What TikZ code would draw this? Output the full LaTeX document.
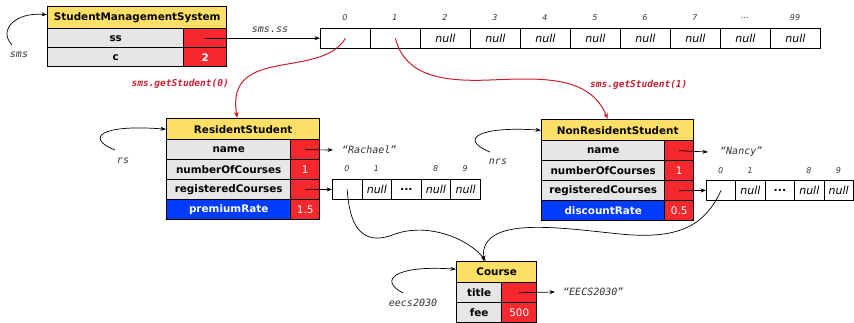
\documentclass[tikz,border=0pt]{standalone}
\usepackage{fontspec}
\setmainfont{DejaVu Sans}
\newfontfamily\monof{DejaVu Sans Mono}
\usetikzlibrary{arrows.meta}
\definecolor{objyellow}{RGB}{255,224,102}
\definecolor{fieldgrey}{RGB}{230,230,230}
\definecolor{valred}{RGB}{245,40,45}
\definecolor{fieldblue}{RGB}{0,60,255}
\definecolor{refred}{RGB}{200,30,45}
\newcommand{\celldots}{{\upshape\bfseries...}}
\tikzset{
  box/.style={draw, line width=1.4pt, inner sep=0pt, anchor=north west},
  titlebox/.style={box, fill=objyellow, font=\bfseries\fontsize{10.4}{12}\selectfont},
  fieldg/.style={box, fill=fieldgrey, font=\bfseries\fontsize{10.4}{12}\selectfont},
  fieldb/.style={box, fill=fieldblue, text=white, font=\bfseries\fontsize{10.4}{12}\selectfont},
  valr/.style={box, fill=valred, text=white, font=\fontsize{10.4}{12}\selectfont},
  arrcell/.style={draw, line width=0.8pt, inner sep=0pt, anchor=north west, minimum height=20pt, font=\itshape\fontsize{11}{12}\selectfont},
  idx/.style={inner sep=0pt, text=black!80, font=\itshape\fontsize{8}{9}\selectfont},
  lbl/.style={inner sep=0pt, text=black!80, font=\monof\itshape\fontsize{10}{12}\selectfont},
  reflbl/.style={inner sep=0pt, text=refred, font=\monof\bfseries\itshape\fontsize{9.5}{11}\selectfont},
  ptr/.style={-{Stealth[length=5.5pt,width=4pt]}, line width=0.7pt},
  refarrow/.style={-{Stealth[length=6pt,width=4.5pt]}, line width=1pt, draw=refred}
}
\begin{document}
\begin{tikzpicture}[x=1pt,y=-1pt]
\useasboundingbox (0,0) rectangle (854,323);

% ---------- StudentManagementSystem ----------
\node[titlebox, minimum width=179pt, minimum height=22pt] (smst) at (47,6) {StudentManagementSystem};
\node[fieldg, minimum width=136pt, minimum height=19pt] (smsss) at (47,28) {ss};
\node[valr, minimum width=43pt, minimum height=19pt] (smsssv) at (183,28) {};
\node[fieldg, minimum width=136pt, minimum height=19pt] (smsc) at (47,47) {c};
\node[valr, minimum width=43pt, minimum height=19pt, font=\bfseries\fontsize{10.4}{12}\selectfont] (smscv) at (183,47) {2};
\node[lbl] (smslbl) at (19,55) {sms};
\coordinate (smsstart) at (12,45);
\draw[ptr] (smsstart) .. controls (-2,30) and (15,12) .. ([yshift=3pt]smst.west);

% ---------- main array ----------
\foreach \i/\t/\l in {0//0,1//1,2/null/2,3/null/3,4/null/4,5/null/5,6/null/6,7/null/7,8/null/…,9/null/99}{
  \node[arrcell, minimum width=50pt] (m\i) at ({320+50*\i},28) {\t};
  \node[idx] (mi\i) at ({345+50*\i},18) {\l};
}
\draw[ptr] (smsssv.center) -- (smsssv.center -| m0.west);
\node[lbl] (ssl) at (270,30) {sms.ss};

% ---------- ResidentStudent ----------
\node[titlebox, minimum width=153pt, minimum height=21pt] (rst) at (166,118) {ResidentStudent};
\node[fieldg, minimum width=124pt, minimum height=20pt] (rsname) at (166,139) {name};
\node[valr, minimum width=29pt, minimum height=20pt] (rsnamev) at (290,139) {};
\node[fieldg, minimum width=124pt, minimum height=20pt] (rsnoc) at (166,159) {numberOfCourses};
\node[valr, minimum width=29pt, minimum height=20pt] (rsnocv) at (290,159) {1};
\node[fieldg, minimum width=124pt, minimum height=20pt] (rsrc) at (166,179) {registeredCourses};
\node[valr, minimum width=29pt, minimum height=20pt] (rsrcv) at (290,179) {};
\node[fieldb, minimum width=124pt, minimum height=20pt] (rspr) at (166,199) {premiumRate};
\node[valr, minimum width=29pt, minimum height=20pt] (rsprv) at (290,199) {1.5};

\node[lbl, anchor=west] (rach) at (342,150) {“Rachael”};
\draw[ptr] (rsnamev.center) -- ([xshift=-9pt]rach.west);

\foreach \i/\t/\l in {0//0,1/null/1,2/\celldots/,3/null/8,4/null/9}{
  \node[arrcell, minimum width=29.6pt] (ra\i) at ({332+29.6*\i},179) {\t};
  \node[idx] (rai\i) at ({346.8+29.6*\i},169) {\l};
}
\draw[ptr] (rsrcv.center) -- (ra0.west);

\node[lbl] (rslbl) at (123,161) {rs};
\coordinate (rsstart) at (115,150);
\draw[ptr] (rsstart) .. controls (85,138) and (100,124) .. (rst.west);

% ---------- NonResidentStudent ----------
\node[titlebox, minimum width=152pt, minimum height=21pt] (nrst) at (541,119) {NonResidentStudent};
\node[fieldg, minimum width=123pt, minimum height=20pt] (nrsname) at (541,140) {name};
\node[valr, minimum width=29pt, minimum height=20pt] (nrsnamev) at (664,140) {};
\node[fieldg, minimum width=123pt, minimum height=20pt] (nrsnoc) at (541,160) {numberOfCourses};
\node[valr, minimum width=29pt, minimum height=20pt] (nrsnocv) at (664,160) {1};
\node[fieldg, minimum width=123pt, minimum height=20pt] (nrsrc) at (541,180) {registeredCourses};
\node[valr, minimum width=29pt, minimum height=20pt] (nrsrcv) at (664,180) {};
\node[fieldb, minimum width=123pt, minimum height=20pt] (nrsdr) at (541,200) {discountRate};
\node[valr, minimum width=29pt, minimum height=20pt] (nrsdrv) at (664,200) {0.5};

\node[lbl, anchor=west] (nancy) at (720,152) {“Nancy”};
\draw[ptr] (nrsnamev.center) -- ([xshift=-12pt]nancy.west);

\foreach \i/\t/\l in {0//0,1/null/1,2/\celldots/,3/null/8,4/null/9}{
  \node[arrcell, minimum width=29.4pt] (na\i) at ({706+29.4*\i},180) {\t};
  \node[idx] (nai\i) at ({720.7+29.4*\i},171) {\l};
}
\draw[ptr] (nrsrcv.center) -- (na0.west);

\node[lbl] (nrslbl) at (498,162) {nrs};
\coordinate (nrsstart) at (490,152);
\draw[ptr] (nrsstart) .. controls (460,140) and (475,126) .. (nrst.west);

% ---------- Course ----------
\node[titlebox, minimum width=80pt, minimum height=21pt] (courset) at (456,261) {Course};
\node[fieldg, minimum width=45pt, minimum height=20pt] (ctitle) at (456,282) {title};
\node[valr, minimum width=35pt, minimum height=20pt] (ctitlev) at (501,282) {};
\node[fieldg, minimum width=45pt, minimum height=20pt] (cfee) at (456,302) {fee};
\node[valr, minimum width=35pt, minimum height=20pt] (cfeev) at (501,302) {500};

\node[lbl, anchor=west] (eecs) at (563,292) {“EECS2030”};
\draw[ptr] (ctitlev.center) -- ([xshift=-8pt]eecs.west);

\node[lbl] (eecslbl) at (413,303) {eecs2030};
\coordinate (eecsstart) at (403,293);
\draw[ptr] (eecsstart) .. controls (378,280) and (395,265) .. ([yshift=3pt]courset.west);

% ---------- references ----------
\draw[refarrow] (m0.center) .. controls (320,80) and (225,45) .. ([xshift=-6pt]rst.north);
\node[reflbl, anchor=east] (gs0) at (229,84) {sms.getStudent(0)};
\draw[refarrow] (m1.center) .. controls (405,75) and (440,82) .. (490,80) .. controls (540,78) and (590,75) .. ([xshift=-10pt]nrst.north);
\node[reflbl, anchor=west] (gs1) at (590,85) {sms.getStudent(1)};

\draw[ptr] (ra0.center) .. controls (350,235) and (368,245) .. (395,234) .. controls (430,222) and (470,240) .. ([xshift=-11pt]courset.north);
\draw[ptr] (na0.center) .. controls (705,225) and (680,240) .. (620,234) .. controls (560,228) and (480,215) .. ([xshift=-13pt]courset.north);
\end{tikzpicture}
\end{document}
